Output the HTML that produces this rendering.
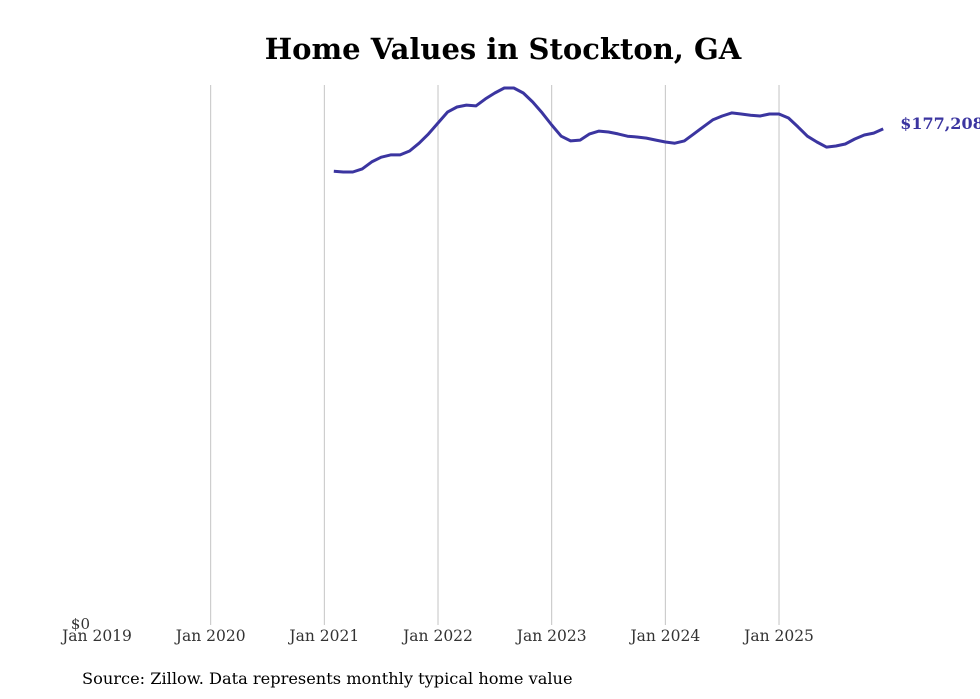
<!DOCTYPE html>
<html><head><meta charset="utf-8">
<style>
body{margin:0;background:#fff;}
svg{display:block;font-family:"DejaVu Serif","Liberation Serif",serif;}
</style></head>
<body>
<svg id="chart" width="980" height="699" viewBox="0 0 980 699">
<text x="503" y="59" text-anchor="middle" font-size="29" font-weight="bold" fill="#000">Home Values in Stockton, GA</text>
<g id="grid"></g>
<g id="xticks"></g>
<text x="90" y="629" text-anchor="end" font-size="15" fill="#333">$0</text>
<path id="line" fill="none" stroke="#3b35a0" stroke-width="3" stroke-linejoin="round"/>
<text id="endlabel" font-size="16" font-weight="bold" fill="#3b35a0"></text>
<text x="82" y="684" font-size="16.2" fill="#000">Source: Zillow. Data represents monthly typical home value</text>
</svg>
<script>
const tickLabels = ["Jan 2019","Jan 2020","Jan 2021","Jan 2022","Jan 2023","Jan 2024","Jan 2025"];
const startMonthIndex = 25; // Feb 2021, months since Jan 2019
const values = [162.1,161.8,161.8,162.9,165.4,167.1,167.9,167.9,169.3,172.1,175.4,
179.3,183.2,185.0,185.7,185.4,187.9,190.0,191.8,191.8,190.0,186.8,182.9,
178.6,174.6,172.9,173.2,175.4,176.4,176.1,175.4,174.6,174.3,173.9,173.2,
172.5,172.1,172.9,175.4,177.9,180.4,181.8,182.9,182.5,182.1,181.8,182.5,
182.5,181.1,177.9,174.6,172.5,170.7,171.1,171.8,173.6,175.0,175.7,177.2];
const lastLabel = "$177,208";

const x0 = 97, pxPerMonth = 113.67/12;
const yBase = 625, yTop = 88;
const yMax = Math.max(...values);
const xScale = m => x0 + m * pxPerMonth;
const yScale = v => yBase - (v / yMax) * (yBase - yTop);

const ns = "http://www.w3.org/2000/svg";
const grid = document.getElementById('grid');
const xt = document.getElementById('xticks');
tickLabels.forEach((t, i) => {
  const x = xScale(i * 12);
  if (i > 0) {
    const l = document.createElementNS(ns, 'line');
    
    
    l.setAttribute('x1', x); l.setAttribute('x2', x);
    l.setAttribute('y1', 85); l.setAttribute('y2', yBase);
    l.setAttribute('stroke', '#c4c4c4'); l.setAttribute('stroke-width', '1');
    grid.appendChild(l);
  }
  const tx = document.createElementNS(ns, 'text');
  
  
  tx.setAttribute('x', x); tx.setAttribute('y', 641);
  tx.setAttribute('text-anchor', 'middle');
  tx.setAttribute('font-size', '15.5'); tx.setAttribute('fill', '#333');
  tx.textContent = t;
  xt.appendChild(tx);
});
let d = '';
values.forEach((v, i) => {
  d += (i ? 'L' : 'M') + xScale(startMonthIndex + i).toFixed(1) + ' ' + yScale(v).toFixed(1);
});
document.getElementById('line').setAttribute('d', d);
const el = document.getElementById('endlabel');
el.setAttribute('x', xScale(startMonthIndex + values.length - 1) + 17);
el.setAttribute('y', yScale(values[values.length - 1]) + 0);
el.textContent = lastLabel;
</script>
</body></html>
